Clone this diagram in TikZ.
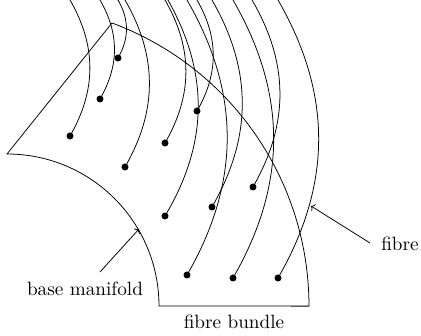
\documentclass[tikz,border=0pt]{standalone}
\usetikzlibrary{arrows.meta}
\begin{document}
\begin{tikzpicture}[x=1pt,y=1pt,line width=0.77pt,
  dot/.style={circle,fill,inner sep=0pt,minimum size=7pt},
  lbl/.style={scale=1.922,anchor=base,inner sep=0pt},
  fibreline/.style={bend left=30},
  >={To[length=3.5pt,width=8pt]}]
\useasboundingbox (0,0) rectangle (421,336);
% base region
\coordinate (T) at (112,313);
\coordinate (B1) at (159,30);
\draw (T) arc[start angle=69.65, end angle=0, radius=302] -- (B1)
      arc[start angle=0, end angle=90, radius=152] -- cycle;
% dots
\node[dot] (d1) at (70,200) {};
\node[dot] (d2) at (100,237) {};
\node[dot] (d3) at (118,278) {};
\node[dot] (d4) at (125,169) {};
\node[dot] (d5) at (165,193) {};
\node[dot] (d6) at (165,120) {};
\node[dot] (d7) at (187,61) {};
\node[dot] (d8) at (197,225) {};
\node[dot] (d9) at (212,129) {};
\node[dot] (d10) at (233,58) {};
\node[dot] (d11) at (253,149) {};
\node[dot] (d12) at (278,58) {};
% fibre tops
\coordinate (t1) at (70,336);
\coordinate (t2) at (100,336);
\coordinate (t3) at (118,336);
\coordinate (t4) at (125,336);
\coordinate (t5) at (165,336);
\coordinate (t6) at (168,336);
\coordinate (t7) at (187,336);
\coordinate (t8) at (197,336);
\coordinate (t9) at (212,336);
\coordinate (t10) at (233,336);
\coordinate (t11) at (252,336);
\coordinate (t12) at (278,336);
\foreach \i in {1,...,12}{
  \draw (t\i) to[fibreline] (d\i.center);
}
% labels
\node[lbl] (bm) at (85,40) {base manifold};
\node[lbl] (fb) at (234,7) {fibre bundle};
\node[lbl] (fi) at (400,85) {fibre};
\coordinate (bmtail) at (100,64);
\coordinate (bmhead) at (139,107);
\coordinate (fitail) at (370,93);
\coordinate (fihead) at (311,130);
\draw[->] (bmtail) -- (bmhead);
\draw[->] (fitail) -- (fihead);
\end{tikzpicture}
\end{document}
